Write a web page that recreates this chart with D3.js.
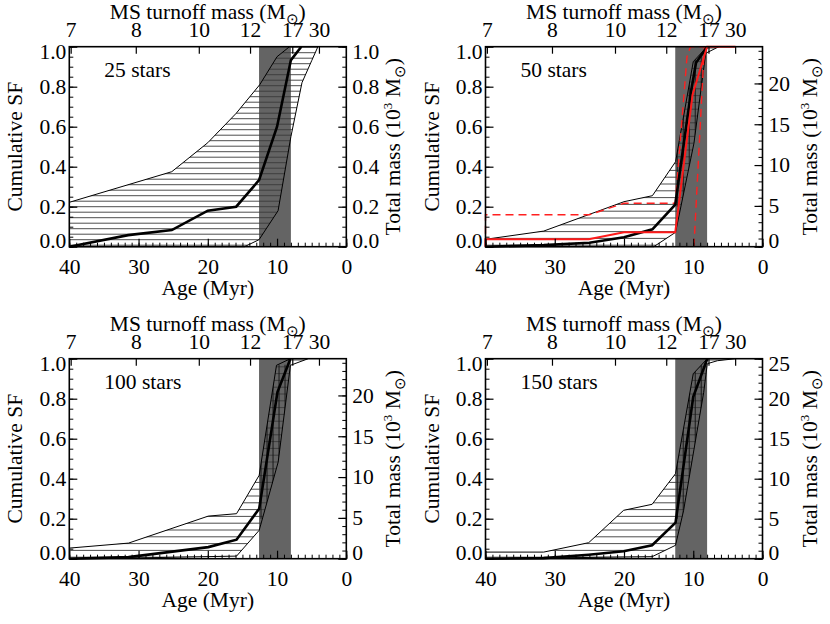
<!DOCTYPE html>
<html><head><meta charset="utf-8">
<script src="https://cdn.jsdelivr.net/npm/d3@7"></script>
<style>
body{margin:0;background:#fff} svg{display:block}
</style>
</head><body><svg id="c" width="830" height="624"></svg>
<script>
// ---------- data ----------
const ageTicks = [40, 30, 20, 10, 0];
const massTickLabels = [7, 8, 10, 12, 17, 30];
const massTickAges = [39.8, 30.4, 21.3, 13.9, 7.8, 3.95];
const sfTicks = [0, 0.2, 0.4, 0.6, 0.8, 1.0];
const bandAges = [12.6, 8.0];
const panelLabels = ["25 stars", "50 stars", "100 stars", "150 stars"];
const massMax = [1.0, 24.5, 24.5, 25];
const massTickStep = [0.2, 5, 5, 5];

// [age (Myr), cumulative SF]
const upper1 = [[40,0.222],[25.2,0.375],[20,0.52],[15.9,0.667],[12.5,0.81],[10,0.95],[8.2,1.0]];
const median1 = [[40,0],[31.5,0.058],[25.2,0.083],[20,0.18],[15.9,0.2],[12.6,0.333],[10,0.6],[8.0,0.933],[6.5,1.0]];
const lower1 = [[40,0],[14.7,0],[12.6,0.035],[9.85,0.18],[8.0,0.55],[6.4,0.82],[5.0,0.93],[4.1,1.0]];

const upper2 = [[40,0.037],[31.6,0.078],[20,0.225],[15.9,0.255],[12.55,0.425],[10,0.925],[8.0,1.0]];
const median2 = [[40,0],[31.6,0.008],[25,0.02],[20,0.047],[15.9,0.087],[12.6,0.21],[10.3,0.78],[9.6,0.92],[8.0,1.0]];
const lower2 = [[40,0],[15.7,0],[12.55,0.072],[9.9,0.517],[8.2,0.967],[6.3,1.0]];
const redSolid2 = [[40,0],[40,0.037],[25.1,0.037],[20,0.072],[12.6,0.072],[10.1,0.76],[8.0,1.0],[3.9,1.0]];
const redDashUpper2 = [[40,0],[40,0.16],[25,0.16],[20,0.217],[12.6,0.217],[10.9,0.95],[10.4,1.0],[8.0,1.0]];
const redDashLower2 = [[9.9,0],[8.4,1.0]];

const upper3 = [[40,0.053],[31.45,0.078],[19.93,0.213],[15.85,0.225],[12.58,0.417],[10.08,0.967],[8.07,1.0]];
const median3 = [[40,0],[31.45,0.008],[19.93,0.058],[15.85,0.095],[12.58,0.25],[9.94,0.833],[8.07,1.0]];
const lower3 = [[40,0],[31.5,0.003],[15.85,0.013],[12.58,0.142],[9.84,0.483],[8.07,0.967],[5.5,1.0]];

const upper4 = [[40,0.033],[31.6,0.033],[25.1,0.08],[20.05,0.242],[15.94,0.272],[12.56,0.425],[10,0.925],[7.97,1.0]];
const median4 = [[40,0],[31.6,0.003],[25.1,0.02],[20.05,0.037],[15.94,0.067],[12.56,0.18],[10,0.81],[7.97,1.0]];
const lower4 = [[40,0],[15.94,0.01],[12.56,0.067],[11.4,0.24],[8.5,0.83],[7.97,0.975],[6.5,0.99],[3.9,1.0]];

// ---------- layout ----------
const FONT = '"Liberation Serif"';
const FS = 21.5;
const W = 277, H = 200;
const origins = [[69.3,46.7],[485.5,46.7],[69.3,358.7],[485.5,358.7]];

const panels = [
  {upper:upper1, median:median1, lower:lower1, vhatch:false, sp:5.5, red:false},
  {upper:upper2, median:median2, lower:lower2, vhatch:true, sp:6.8, red:true},
  {upper:upper3, median:median3, lower:lower3, vhatch:true, sp:6.8, red:false},
  {upper:upper4, median:median4, lower:lower4, vhatch:true, sp:6.8, red:false}
];

const svg = d3.select("#c");

function styleAxis(sel, w){
  sel.select(".domain").remove();
  sel.attr("font-family", null).attr("font-size", null);
  sel.selectAll("line").attr("stroke","#000").attr("stroke-width", w || 1.2);
  sel.selectAll("text").style("font-family", FONT).attr("font-size", FS).attr("fill","#000");
}

panels.forEach((p, i) => {
  const o = origins[i];
  const g = svg.append("g").attr("transform", `translate(${o[0]},${o[1]})`);
  const x = d3.scaleLinear().domain([40, 0]).range([0, W]);
  const y = d3.scaleLinear().domain([0, 1]).range([H, 0]);
  const yM = d3.scaleLinear().domain([0, massMax[i]]).range([H, 0]);
  const line = d3.line().x(d => x(d[0])).y(d => y(d[1]));

  // gray band
  g.append("rect").attr("x", x(bandAges[0])).attr("y", 0)
    .attr("width", x(bandAges[1]) - x(bandAges[0])).attr("height", H)
    .attr("fill", "#646464");

  // hatch clip polygon
  const poly = p.upper.concat(p.lower.slice().reverse());
  const cid = "clip" + i;
  g.append("clipPath").attr("id", cid).append("path").attr("d", line(poly) + "Z");
  const hg = g.append("g").attr("clip-path", `url(#${cid})`);
  const ys = d3.range(H - 1.5, 0, -p.sp);
  hg.selectAll("line.h").data(ys).join("line").attr("class","h")
    .attr("x1", 0).attr("x2", W).attr("y1", d => d).attr("y2", d => d)
    .attr("stroke", "#3a3a3a").attr("stroke-width", 0.9);
  if (p.vhatch) {
    const bid = "band" + i;
    g.append("clipPath").attr("id", bid).append("rect")
      .attr("x", x(bandAges[0])).attr("y", y(0.97))
      .attr("width", x(bandAges[1]) - x(bandAges[0])).attr("height", y(0.2) - y(0.97));
    const vg = hg.append("g").attr("clip-path", `url(#${bid})`);
    const xs = d3.range(x(bandAges[0]) + 2, x(bandAges[1]), 6);
    vg.selectAll("line").data(xs).join("line")
      .attr("x1", d => d).attr("x2", d => d).attr("y1", 0).attr("y2", H)
      .attr("stroke", "#111").attr("stroke-width", 0.9);
  }

  // bounds & median
  g.append("path").attr("d", line(p.upper)).attr("fill","none").attr("stroke","#000").attr("stroke-width",1);
  g.append("path").attr("d", line(p.lower)).attr("fill","none").attr("stroke","#000").attr("stroke-width",1);
  if (p.red) {
    g.append("path").attr("d", line(redDashUpper2)).attr("fill","none").attr("stroke","#ff2020").attr("stroke-width",1.4).attr("stroke-dasharray","8,5");
    g.append("path").attr("d", line(redDashLower2)).attr("fill","none").attr("stroke","#ff2020").attr("stroke-width",1.4).attr("stroke-dasharray","8,5");
  }
  g.append("path").attr("d", line(p.median)).attr("fill","none").attr("stroke","#000").attr("stroke-width",2.6);
  if (p.red) {
    g.append("path").attr("d", line(redSolid2)).attr("fill","none").attr("stroke","#ff1a1a").attr("stroke-width",2);
  }

  // axes: left
  const minorSF = d3.range(0, 1.0001, 0.05);
  g.append("g").call(d3.axisLeft(y).tickValues(minorSF).tickSize(-4).tickFormat("")).call(s => styleAxis(s, 1));
  const la = g.append("g").call(d3.axisLeft(y).tickValues(sfTicks).tickSize(-8).tickPadding(3).tickFormat(d3.format(".1f")));
  styleAxis(la);
  la.selectAll(".tick text").attr("y", d => d === 0 ? -6 : (d === 1 ? 5 : 0));

  // right
  const step = massTickStep[i];
  const mTicks = d3.range(0, massMax[i] + 1e-6, step);
  const mMinor = d3.range(0, massMax[i] + 1e-6, i === 0 ? 0.05 : 1);
  g.append("g").attr("transform", `translate(${W},0)`)
    .call(d3.axisRight(yM).tickValues(mMinor).tickSize(-4).tickFormat("")).call(s => styleAxis(s, 1));
  const ra = g.append("g").attr("transform", `translate(${W},0)`)
    .call(d3.axisRight(yM).tickValues(mTicks).tickSize(-8).tickPadding(6)
      .tickFormat(i === 0 ? d3.format(".1f") : d3.format("d")));
  styleAxis(ra);
  ra.selectAll(".tick text").attr("y", d => d === 0 ? -6 : (Math.abs(d - massMax[i]) < 1e-6 ? 5 : 0));

  // bottom
  g.append("g").attr("transform", `translate(0,${H})`)
    .call(d3.axisBottom(x).tickValues(d3.range(0, 41, 1)).tickSize(-4).tickFormat("")).call(s => styleAxis(s, 1));
  const ba = g.append("g").attr("transform", `translate(0,${H})`)
    .call(d3.axisBottom(x).tickValues(ageTicks).tickSize(-8).tickPadding(12).tickFormat(d3.format("d")));
  styleAxis(ba);

  // top
  const ta = g.append("g")
    .call(d3.axisTop(x).tickValues(massTickAges).tickSize(-7).tickPadding(9.4)
      .tickFormat((d, k) => massTickLabels[k]));
  styleAxis(ta);

  // box
  g.append("rect").attr("x",0).attr("y",0).attr("width",W).attr("height",H)
    .attr("fill","none").attr("stroke","#000").attr("stroke-width",1.6);

  // titles
  const tt = g.append("text").attr("x", W/2).attr("y", -28).attr("text-anchor","middle")
    .style("font-family", FONT).attr("font-size", FS);
  tt.append("tspan").text("MS turnoff mass (M");
  tt.append("tspan").attr("dy", 5).attr("font-size", 15).text("\u2299");
  tt.append("tspan").attr("dy", -5).text(")");

  g.append("text").attr("x", W/2).attr("y", H + 48.5).attr("text-anchor","middle")
    .style("font-family", FONT).attr("font-size", FS).text("Age (Myr)");

  g.append("text").attr("transform", `translate(-47,${H/2}) rotate(-90)`).attr("text-anchor","middle")
    .style("font-family", FONT).attr("font-size", FS).text("Cumulative SF");

  const rt = g.append("text").attr("transform", `translate(${W+54},${H/2}) rotate(-90)`).attr("text-anchor","middle")
    .style("font-family", FONT).attr("font-size", FS);
  rt.append("tspan").text("Total mass (10");
  rt.append("tspan").attr("dy", -8).attr("font-size", 13).text("3");
  rt.append("tspan").attr("dy", 8).text(" M");
  rt.append("tspan").attr("dy", 5).attr("font-size", 15).text("\u2299");
  rt.append("tspan").attr("dy", -5).text(")");

  g.append("text").attr("x", 35).attr("y", 30).style("font-family", FONT).attr("font-size", FS)
    .text(panelLabels[i]);
});
</script>
</body></html>
